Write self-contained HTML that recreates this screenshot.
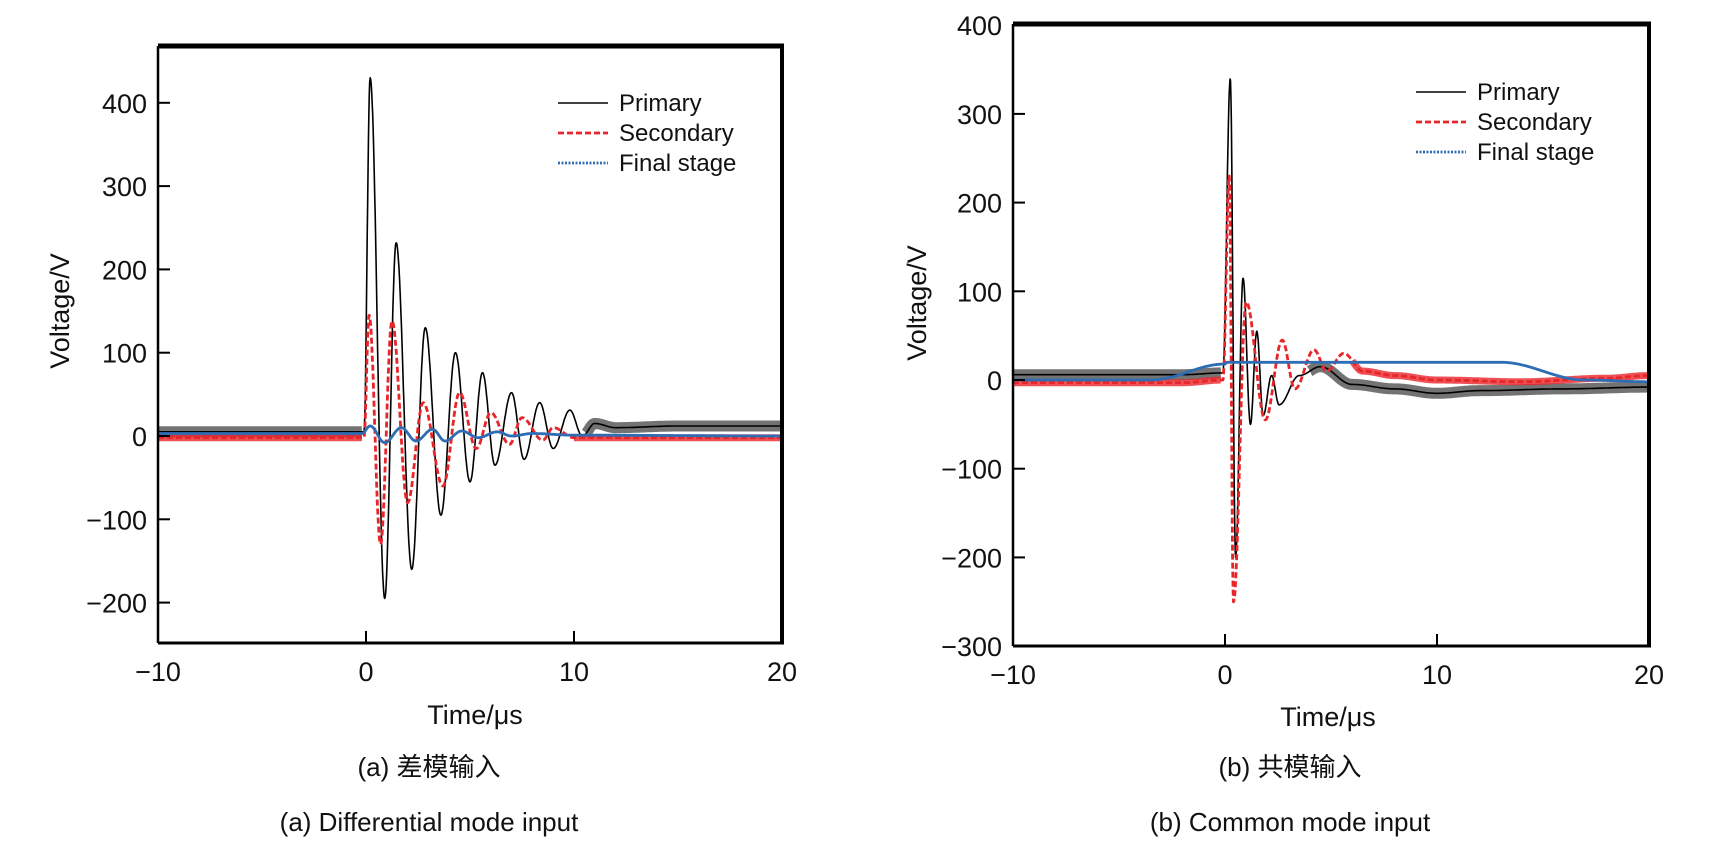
<!DOCTYPE html>
<html><head><meta charset="utf-8"><style>
body{margin:0;background:#fff;}
svg text{font-family:"Liberation Sans","Noto Sans CJK SC",sans-serif;fill:#111;}
</style></head><body>
<svg id="fig" width="1725" height="844" viewBox="0 0 1725 844"></svg>
<script>
// ---- Chart (a) data: differential mode ----
const aPrimaryT = [-10,-5,-0.1,0.2,0.9,1.45,2.2,2.85,3.6,4.3,5.0,5.6,6.2,7.0,7.6,8.35,9.0,9.8,10.4,11.0,12,15,20];
const aPrimaryV = [5,5,5,430,-195,232,-160,130,-95,100,-55,76,-35,52,-28,40,-15,31,0,15,10,12,12];
const aSecT = [-10,-0.1,0.15,0.7,1.25,2.0,2.75,3.7,4.5,5.3,6.0,6.9,7.5,8.5,9.0,10,20];
const aSecV = [-2,-2,145,-130,138,-80,40,-60,52,-15,28,-10,22,-5,10,-2,-2];
const aFinT = [-10,-0.2,0.2,0.9,1.7,2.4,3.2,3.8,4.6,5.4,6.3,7.0,8.0,10,20];
const aFinV = [3,3,12,-8,10,-6,8,-6,6,-2,5,0,3,1,0];
const aYTicks = [400,300,200,100,0,-100,-200];
const xTicks = [-10,0,10,20];
// ---- Chart (b) data: common mode ----
const bPrimaryT = [-10,-2,-0.1,0.25,0.5,0.85,1.2,1.5,1.8,2.2,2.55,3.5,4.5,6,8,10,12,16,20];
const bPrimaryV = [6,6,8,340,-200,115,-50,55,-40,5,-28,5,15,-5,-10,-15,-12,-10,-8];
const bSecT = [-10,-2,-0.1,0.2,0.4,1.0,1.9,2.7,3.3,4.2,4.8,5.6,6.5,8,10,14,18,20];
const bSecV = [-3,-3,0,230,-250,88,-45,45,-10,34,10,30,10,5,0,-2,2,5];
const bFinT = [-10,-3.5,0,0.1,5,13,17,20];
const bFinV = [0,0,18,20,20,20,0,-2];
const bYTicks = [400,300,200,100,0,-100,-200,-300];

const NS="http://www.w3.org/2000/svg";
const svg=document.getElementById('fig');
function mk(tag,attrs,parent){const e=document.createElementNS(NS,tag);for(const k in attrs)e.setAttribute(k,attrs[k]);(parent||svg).appendChild(e);return e;}
function txt(s,attrs,parent){const e=mk('text',attrs,parent);e.textContent=s;return e;}
// half-cosine interpolation between consecutive keypoints
function sample(T,V,t){
  for(let i=0;i<T.length-1;i++){
    if(t>=T[i]&&t<=T[i+1]){const u=(t-T[i])/(T[i+1]-T[i]);const w=(1-Math.cos(Math.PI*u))/2;return V[i]+(V[i+1]-V[i])*w;}
  }
  return V[V.length-1];
}

function chart(cfg){
  const g=mk('g',{});
  
  
  const xs=t=>cfg.x0+(t-(-10))/30*(cfg.x1-cfg.x0);
  const ys=v=>cfg.yZero-v*cfg.pxPerV;
  function pathPts(T,V,a,b){
    const out=[];const n=Math.round((b-a)/0.02);
    for(let k=0;k<=n;k++){const t=a+(b-a)*k/n;out.push(xs(t).toFixed(1)+','+ys(sample(T,V,t)).toFixed(1));}
    return out.join(' ');
  }
  function series(T,V,attrs,name,bands,bandAttrs){
    bands.forEach(r=>{
      const b=mk('polyline',Object.assign({points:pathPts(T,V,r[0],r[1]),fill:'none'},bandAttrs),g);
      
      
    });
    const p=mk('polyline',Object.assign({points:pathPts(T,V,-10,20),fill:'none','stroke-linejoin':'round'},attrs),g);
    
    
  }
  series(cfg.pT,cfg.pV,{stroke:'#000','stroke-width':1.6},'primary-line',cfg.pNoise,{stroke:'#000','stroke-width':11,'stroke-opacity':0.55});
  series(cfg.sT,cfg.sV,{stroke:'#e8262a','stroke-width':2.8,'stroke-dasharray':'6,3'},'secondary-line',cfg.sNoise,{stroke:'#e8262a','stroke-width':7,'stroke-opacity':0.8});
  series(cfg.fT,cfg.fV,{stroke:'#2e6db4','stroke-width':2.8},'final-stage-line',[],{});
  const fr=mk('g',{stroke:'#000',fill:'none'},g);
  
  
  mk('line',{x1:cfg.x0,y1:cfg.yTop,x2:cfg.x1+2,y2:cfg.yTop,'stroke-width':5},fr);
  mk('line',{x1:cfg.x1,y1:cfg.yTop,x2:cfg.x1,y2:cfg.yBot,'stroke-width':4},fr);
  mk('line',{x1:cfg.x0,y1:cfg.yBot,x2:cfg.x1+2,y2:cfg.yBot,'stroke-width':3},fr);
  mk('line',{x1:cfg.x0,y1:cfg.yTop,x2:cfg.x0,y2:cfg.yBot,'stroke-width':2.5},fr);
  cfg.yTicks.forEach(v=>{
    const y=ys(v);
    mk('line',{x1:cfg.x0,y1:y,x2:cfg.x0+12,y2:y,stroke:'#000','stroke-width':2},g);
    const t=txt(v<0?'\u2212'+(-v):String(v),{x:cfg.x0-11,y:y+10,'font-size':27,'text-anchor':'end'},g);
    
    
  });
  xTicks.forEach(t0=>{
    const x=xs(t0);
    if(t0>-10&&t0<20) mk('line',{x1:x,y1:cfg.yBot,x2:x,y2:cfg.yBot-12,stroke:'#000','stroke-width':2},g);
    const t=txt(t0<0?'\u2212'+(-t0):String(t0),{x:x,y:cfg.xLabY,'font-size':27,'text-anchor':'middle'},g);
    
    
  });
  const yt=txt('Voltage/V',{x:0,y:0,'font-size':27,'text-anchor':'middle',transform:`translate(${cfg.yTitleX},${cfg.yTitleY}) rotate(-90)`},g);
  
  
  const xt=txt('Time/\u03bcs',{x:cfg.xTitleX,y:cfg.xTitleY,'font-size':27,'text-anchor':'middle'},g);
  
  
  const lg=mk('g',{},g);
  
  
  const items=[['Primary',{stroke:'#000','stroke-width':1.6}],['Secondary',{stroke:'#e8262a','stroke-width':2.8,'stroke-dasharray':'6,3'}],['Final stage',{stroke:'#2e6db4','stroke-width':2.8,'stroke-dasharray':'2,1.5'}]];
  items.forEach((it,i)=>{
    const y=cfg.legY+i*30;
    mk('line',Object.assign({x1:cfg.legX,y1:y,x2:cfg.legX+50,y2:y},it[1]),lg);
    const t=txt(it[0],{x:cfg.legX+61,y:y+8,'font-size':24},lg);
    
    
  });
  const c1=txt(cfg.cap1,{x:cfg.capX,y:776,'font-size':26,'text-anchor':'middle'},g);
  
  
  const c2=txt(cfg.cap2,{x:cfg.capX,y:831,'font-size':26,'text-anchor':'middle'},g);
  
  
}

chart({name:'chart-differential-mode',x0:158,x1:782,yTop:46,yBot:643,yZero:436,pxPerV:0.833,
  pT:aPrimaryT,pV:aPrimaryV,sT:aSecT,sV:aSecV,fT:aFinT,fV:aFinV,yTicks:aYTicks,
  pNoise:[[-10,-0.2],[10.6,20]],sNoise:[[-10,-0.2],[10,20]],
  xLabY:681,yTitleX:69,yTitleY:311,xTitleX:475,xTitleY:724,legX:558,legY:103,
  capX:429,cap1:'(a) 差模输入',cap2:'(a) Differential mode input'});
chart({name:'chart-common-mode',x0:1013,x1:1649,yTop:24,yBot:646,yZero:380,pxPerV:0.887,
  pT:bPrimaryT,pV:bPrimaryV,sT:bSecT,sV:bSecV,fT:bFinT,fV:bFinV,yTicks:bYTicks,
  pNoise:[[-10,-0.2],[4,20]],sNoise:[[-10,-0.2],[6,20]],
  xLabY:684,yTitleX:926,yTitleY:303,xTitleX:1328,xTitleY:726,legX:1416,legY:92,
  capX:1290,cap1:'(b) 共模输入',cap2:'(b) Common mode input'});
</script>
</body></html>
